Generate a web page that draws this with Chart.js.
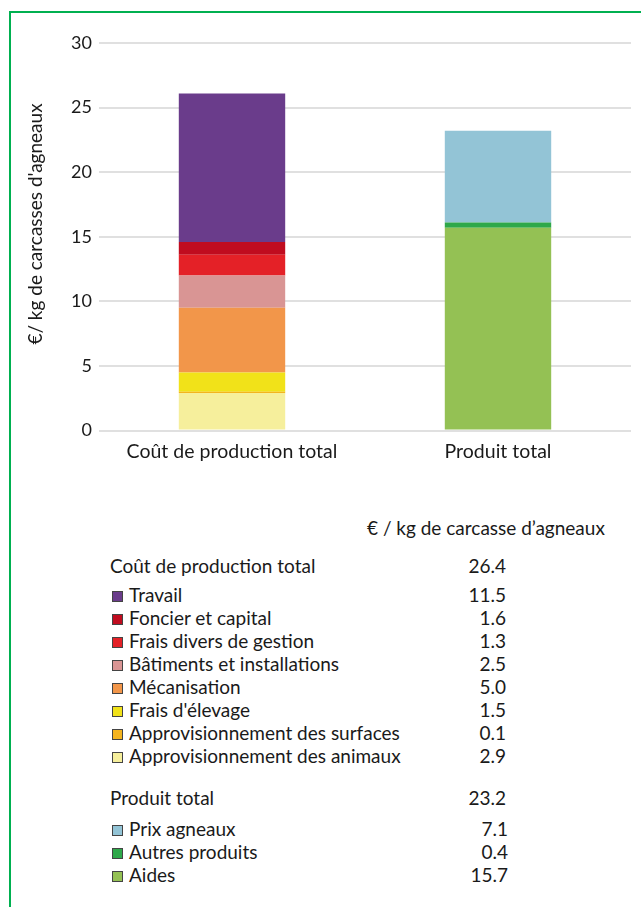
<!DOCTYPE html>
<html>
<head>
<meta charset="utf-8">
<script src="https://cdn.jsdelivr.net/npm/chart.js@4/dist/chart.umd.min.js"></script>
<style>
  html, body { margin: 0; padding: 0; background: #fff; }
  body { width: 641px; height: 907px; position: relative; overflow: hidden; font-family: Lato, "Open Sans", sans-serif; color: #1a1a1a; }
  #frame { position: absolute; left: 9px; top: 11px; right: -5px; bottom: -5px; border-top: 2px solid #00b050; border-left: 2px solid #00b050; pointer-events: none; }
  #wrap { position: absolute; left: 0; top: 0; width: 641px; height: 480px; }
  #ytitle { position: absolute; left: 34px; top: 224px; transform: translate(-50%, -50%) rotate(-90deg); white-space: nowrap; font-size: 19px; }
  .t { position: absolute; height: 22px; line-height: 22px; font-size: 19px; white-space: nowrap; }
  .v { text-align: right; }
  .sq { position: absolute; width: 9px; height: 9px; border: 1px solid #444; }
</style>
</head>
<body>
<div id="wrap"><canvas id="c" width="641" height="480"></canvas></div>
<div id="ytitle">€/ kg de carcasses d'agneaux</div>
<div id="table"></div>
<div id="frame"></div>
<script>
// ---- data ----
const categories = ['Coût de production total', 'Produit total'];
const yTicks = [0, 5, 10, 15, 20, 25, 30];

// cost components, bottom to top of the stacked bar (heights)
const costNames = ['Approvisionnement des animaux', 'Approvisionnement des surfaces', "Frais d'élevage", 'Mécanisation', 'Bâtiments et installations', 'Frais divers de gestion', 'Foncier et capital', 'Travail'];
const costBarValues = [2.9, 0.1, 1.5, 5.0, 2.5, 1.6, 1.0, 11.5];
const costColors = ['#f6ef9c', '#f4b41f', '#f1e219', '#f2964a', '#d99594', '#e42127', '#c00c1f', '#6a3c8b'];

// product components, bottom to top
const productNames = ['Aides', 'Autres produits', 'Prix agneaux'];
const productBarValues = [15.7, 0.4, 7.1];
const productColors = ['#94c154', '#2ea84a', '#93c4d6'];

// table (as printed, top to bottom)
const tableHeader = '€ / kg de carcasse d’agneaux';
const costTotalLabel = 'Coût de production total';
const costTotalValue = 26.4;
const costTableNames = ['Travail', 'Foncier et capital', 'Frais divers de gestion', 'Bâtiments et installations', 'Mécanisation', "Frais d'élevage", 'Approvisionnement des surfaces', 'Approvisionnement des animaux'];
const costTableValues = [11.5, 1.6, 1.3, 2.5, 5.0, 1.5, 0.1, 2.9];
const costTableColors = ['#6a3c8b', '#c00c1f', '#e42127', '#d99594', '#f2964a', '#f1e219', '#f4b41f', '#f6ef9c'];
const productTotalLabel = 'Produit total';
const productTotalValue = 23.2;
const productTableNames = ['Prix agneaux', 'Autres produits', 'Aides'];
const productTableValues = [7.1, 0.4, 15.7];
const productTableColors = ['#93c4d6', '#2ea84a', '#94c154'];

// ---- chart ----
const datasets = [];
costNames.forEach((n, i) => datasets.push({
  label: n, data: [costBarValues[i], null], backgroundColor: costColors[i],
  borderWidth: 0, stack: 's'
}));
productNames.forEach((n, i) => datasets.push({
  label: n, data: [null, productBarValues[i]], backgroundColor: productColors[i],
  borderWidth: 0, stack: 's'
}));

new Chart(document.getElementById('c'), {
  type: 'bar',
  data: { labels: categories, datasets },
  options: {
    responsive: false,
    animation: false,
    devicePixelRatio: 1,
    barPercentage: 0.8,
    categoryPercentage: 0.5,
    layout: { padding: { left: 0, right: 10, top: 43, bottom: 9.5 } },
    plugins: { legend: { display: false }, tooltip: { enabled: false } },
    scales: {
      x: {
        stacked: true,
        grid: { display: false, drawTicks: false },
        border: { display: false },
        ticks: { color: '#1a1a1a', font: { family: 'Lato', size: 19.5 }, padding: 10, maxRotation: 0 },
        afterFit: s => { s.height = 40; }
      },
      y: {
        stacked: true,
        min: 0, max: 30,
        afterBuildTicks: s => { s.ticks = yTicks.map(v => ({ value: v })); },
        grid: { color: '#e0e0e0', lineWidth: 2, drawTicks: false },
        border: { display: false },
        ticks: { color: '#1a1a1a', font: { family: 'Lato', size: 18 }, padding: 7 },
        afterFit: s => { s.width = 99; }
      }
    }
  }
});

// ---- table (HTML text) ----
const tbl = document.getElementById('table');
function addText(txt, left, yc, cls, right) {
  const d = document.createElement('div');
  d.className = 't' + (cls ? ' ' + cls : '');
  d.textContent = txt;
  d.style.top = (yc - 11) + 'px';
  if (right !== undefined) { d.style.right = (641 - right) + 'px'; }
  else d.style.left = left + 'px';
  tbl.appendChild(d);
}
function addSq(color, yc) {
  const s = document.createElement('div');
  s.className = 'sq';
  s.style.left = '112px';
  s.style.top = (yc - 4) + 'px';
  s.style.background = color;
  tbl.appendChild(s);
}
addText(tableHeader, 367, 528);
addText(costTotalLabel, 110, 566);
addText(costTotalValue.toFixed(1), 0, 566, 'v', 506);
const costRowsY = [595, 618, 641, 664, 687, 710, 733, 756];
costTableNames.forEach((n, i) => {
  addSq(costTableColors[i], costRowsY[i]);
  addText(n, 129, costRowsY[i]);
  addText(costTableValues[i].toFixed(1), 0, costRowsY[i], 'v', 506);
});
addText(productTotalLabel, 110, 798);
addText(productTotalValue.toFixed(1), 0, 798, 'v', 506);
const prodRowsY = [829, 852, 875];
productTableNames.forEach((n, i) => {
  addSq(productTableColors[i], prodRowsY[i]);
  addText(n, 129, prodRowsY[i]);
  addText(productTableValues[i].toFixed(1), 0, prodRowsY[i], 'v', 508);
});
</script>
</body>
</html>
